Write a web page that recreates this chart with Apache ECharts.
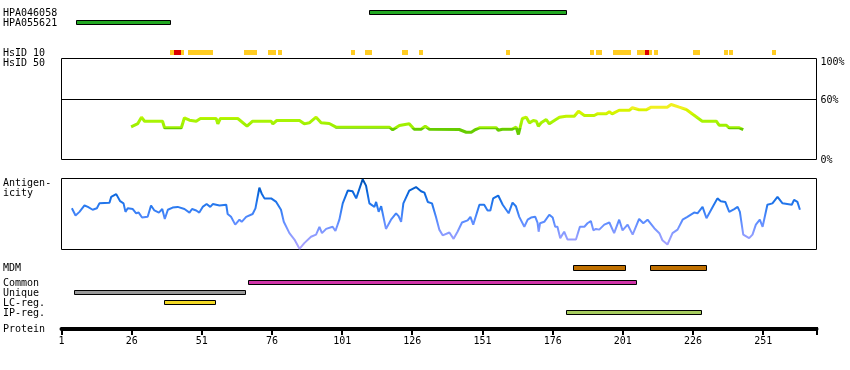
<!DOCTYPE html>
<html><head><meta charset="utf-8">
<script src="https://cdn.jsdelivr.net/npm/echarts@6/dist/echarts.min.js"></script>
<style>html,body{margin:0;padding:0;background:#fff}#c{width:850px;height:370px}</style>
</head><body><div id="c"></div>
<script>
// ---------------- data ----------------
const residueMin = 1;
const residueMax = 270;
const residueTickStep = 25;
const proteinTickMarks = [1, 26, 51, 76, 101, 126, 151, 176, 201, 226, 251, 270];
const identityTicks = [0, 60, 100];

const hpa046058Ranges = [[110.4, 180.7]];
const hpa055621Ranges = [[6.3, 39.8]];

// [start, end, level]  level 1 = yellow, 2 = red
const hsid10Segments = [
  [39.5,41.2,1],[41.2,43.7,2],[43.7,44.8,1],[46.2,54.8,1],[66.2,70.8,1],[74.4,77.6,1],[78.3,79.7,1],
  [104.3,105.7,1],[109.3,111.8,1],[122.4,124.6,1],[128.5,129.9,1],[159.5,160.9,1],
  [189.4,190.8,1],[191.5,193.7,1],[197.6,204.0,1],[205.9,208.8,1],[208.8,210.2,2],[210.2,211.3,1],[212.0,213.4,1],
  [225.9,228.4,1],[236.9,238.3,1],[239.0,240.1,1],[254.0,255.4,1]
];

// HsID 50 identity (%) along residues
const identityPoints = [
  [25.8,32.4],[28.2,35.6],[29.5,41.9],[30.6,37.9],[37.0,37.9],[37.7,31.4],[43.7,31.4],[44.8,41.3],[46.6,38.9],
  [49.0,37.9],[50.5,40.6],[56.1,40.6],[56.7,35.3],[57.6,40.6],[63.8,40.6],[67.1,33.0],[69.1,37.9],[75.7,37.9],
  [76.3,35.3],[77.7,38.6],[85.8,38.6],[87.5,35.3],[89.3,36.3],[91.7,41.9],[93.5,36.3],[96.4,35.6],[98.8,32.0],
  [117.8,32.0],[119.0,29.4],[121.4,33.7],[124.9,35.3],[126.7,30.0],[129.1,30.0],[130.6,33.0],[132.1,30.0],
  [142.7,29.7],[145.2,27.0],[147.0,27.0],[148.1,29.0],[149.9,31.4],[155.9,31.4],[156.6,29.0],[158.1,30.0],
  [161.6,30.0],[163.0,32.0],[163.8,24.8],[165.2,40.6],[166.6,41.9],[167.7,36.3],[169.1,38.6],[170.2,37.9],
  [170.9,33.0],[171.9,36.3],[173.7,39.6],[174.8,35.3],[176.6,38.6],[178.4,41.9],[180.8,42.9],[183.7,42.9],
  [185.2,47.8],[187.3,43.6],[190.8,43.6],[191.9,45.2],[195.1,45.2],[196.2,47.2],[197.2,45.2],[199.7,48.8],
  [203.3,48.8],[204.4,51.2],[206.8,49.2],[209.3,49.2],[211.1,51.8],[216.8,51.8],[218.2,54.5],[221.1,51.8],
  [223.6,49.5],[229.3,37.9],[234.3,37.9],[235.3,34.0],[237.8,34.0],[238.9,31.4],[242.5,31.4],[243.9,29.7]
];

// Antigenicity score (0-100 relative) along residues
const antigenicityPoints = [
  [4.7,58],[6.0,48],[7.4,53],[9.2,62],[10.4,60],[12.1,56],[13.6,58],[14.5,65],[18.1,66],[18.7,74],[20.5,78],
  [21.9,68],[23.1,65],[23.8,53],[24.6,58],[26.4,57],[27.6,51],[28.5,52],[29.7,45],[31.7,46],[32.9,62],[34.1,55],
  [35.7,52],[36.9,57],[37.8,43],[38.9,56],[40.6,59],[42.4,60],[44.8,57],[46.6,52],[47.5,57],[49.0,55],[50.1,52],
  [51.3,60],[52.7,64],[54.0,60],[54.9,64],[57.3,62],[59.7,63],[60.2,50],[61.4,46],[62.9,35],[64.4,42],[65.2,39],
  [66.8,46],[69.1,50],[70.1,58],[71.5,87],[72.3,79],[73.3,72],[75.7,72],[77.5,67],[79.2,56],[80.2,39],[82.2,23],
  [84.0,14],[85.8,1],[87.5,9],[89.9,18],[91.7,21],[92.9,32],[93.8,23],[95.3,29],[97.6,32],[98.6,26],[100.0,42],
  [101.2,65],[103.0,83],[104.7,82],[106.0,72],[108.3,99],[109.5,90],[110.7,65],[112.5,60],[113.1,67],[114.0,53],
  [114.9,61],[116.6,29],[118.4,42],[120.2,51],[121.1,47],[122.0,39],[122.8,65],[124.9,83],[127.3,88],[129.1,82],
  [130.3,80],[131.5,67],[133.0,65],[134.4,46],[135.6,28],[136.8,20],[139.2,24],[140.7,15],[142.1,25],[143.7,38],
  [145.7,41],[146.7,46],[147.7,35],[149.9,63],[151.6,63],[152.8,55],[153.8,55],[154.8,72],[156.6,76],[158.2,63],
  [160.3,51],[161.7,66],[162.9,61],[164.1,46],[165.9,32],[167.1,42],[168.3,45],[169.8,46],[170.6,38],[171.0,25],
  [171.5,37],[173.0,39],[174.8,49],[176.0,45],[176.9,32],[177.7,32],[178.7,16],[180.1,25],[181.3,14],[184.3,14],
  [185.7,32],[187.3,32],[188.4,37],[189.6,40],[190.5,27],[191.4,29],[192.6,28],[194.4,35],[196.2,38],[197.9,23],
  [199.7,42],[200.9,27],[202.7,35],[204.5,21],[206.8,43],[208.3,37],[209.8,42],[212.2,30],[214.0,23],[215.1,13],
  [216.9,7],[218.7,23],[220.5,28],[222.3,42],[224.0,46],[226.4,52],[227.6,51],[229.4,60],[230.8,44],[233.0,60],
  [234.7,72],[235.9,68],[237.5,67],[238.9,53],[240.7,57],[241.9,60],[242.7,53],[243.9,21],[246.0,16],[247.2,21],
  [248.4,35],[249.8,42],[250.8,32],[252.5,63],[254.3,65],[256.1,74],[257.9,65],[261.2,63],[262.0,70],[263.2,67],
  [264.1,56]
];

const mdmRanges = [[183.4, 201.7], [210.5, 230.6]];
const commonRanges = [[67.3, 205.7]];
const uniqueRanges = [[5.3, 66.4]];
const lcRegRanges = [[37.4, 55.7]];
const ipRegRanges = [[180.6, 228.8]];

const trackLabels = ['HPA046058','HPA055621','HsID 10','HsID 50','Antigen-','icity','MDM','Common','Unique','LC-reg.','IP-reg.','Protein'];

// ---------------- layout / style ----------------
const FONT = 'DejaVu Sans Mono';
const L = 61.5, W = 755;
const labelCenters = [13, 23.5, 53, 63, 183, 193.5, 268.5, 283, 293, 303, 313, 329.5];
const rows = {
  hpa046058: {top:10, h:5, color:'#22A822', stroke:true},
  hpa055621: {top:20, h:5, color:'#22A822', stroke:true},
  hsid10:    {top:50, h:5, colors:{1:'#FFCC22', 2:'#DD0000'}},
  mdm:       {top:265, h:6, color:'#C07000', stroke:true},
  common:    {top:280, h:5, color:'#D033A8', stroke:true},
  unique:    {top:290, h:5, color:'#999999', stroke:true},
  lc:        {top:300, h:5, color:'#F2D824', stroke:true},
  ip:        {top:310, h:5, color:'#A6CC5E', stroke:true}
};
const tickStyle = {top:327, h:8, w:2};

function trackSeries(name, data, row) {
  return {
    type:'custom', name, xAxisIndex:0, yAxisIndex:0, data, clip:false, silent:true, z:5,
    encode:{x:[0,1]},
    renderItem:function(params, api){
      const x0 = api.coord([api.value(0), 0])[0];
      const x1 = api.coord([api.value(1), 0])[0];
      const fill = row.colors ? row.colors[api.value(2)] : row.color;
      if (row.stroke) {
        const a = Math.round(x0) + 0.5, b = Math.round(x1) + 0.5;
        return {type:'rect', shape:{x:a, y:row.top + 0.5, width:b - a, height:row.h - 1},
                style:{fill, stroke:'#000', lineWidth:1}};
      }
      const a = Math.round(x0), b = Math.round(x1);
      return {type:'rect', shape:{x:a, y:row.top, width:Math.max(1, b - a), height:row.h}, style:{fill}};
    }
  };
}

const hiddenX = (g) => ({gridIndex:g, type:'value', min:residueMin, max:residueMax, show:false});

const labelPad = {100:8, 60:4, 0:1};

const option = {
  animation:false,
  backgroundColor:'#fff',
  grid:[
    {left:L, width:W, top:0, height:370, show:false},
    {left:L, width:W, top:58.5, height:101, show:true, borderColor:'#000', borderWidth:1, backgroundColor:'transparent'},
    {left:L, width:W, top:178.5, height:71, show:true, borderColor:'#000', borderWidth:1, backgroundColor:'transparent'},
    {left:L, width:W, top:300, height:29, show:false}
  ],
  xAxis:[
    hiddenX(0), hiddenX(1), hiddenX(2),
    {gridIndex:3, type:'value', min:residueMin, max:residueMax, interval:residueTickStep,
     axisLine:{show:true, onZero:false, lineStyle:{color:'#000', width:4}},
     axisTick:{show:false},
     axisLabel:{show:true, color:'#000', fontFamily:FONT, fontSize:10, margin:7, showMaxLabel:false, showMinLabel:true},
     splitLine:{show:false}}
  ],
  yAxis:[
    {gridIndex:0, type:'value', min:0, max:1, show:false},
    {gridIndex:1, type:'value', position:'right', min:identityTicks[0], max:identityTicks[2], interval:identityTicks[1],
     axisLine:{show:false}, axisTick:{show:false}, splitLine:{show:false},
     axisLabel:{show:true, margin:4, color:'#000', fontFamily:FONT, fontSize:10,
       formatter:(v)=> '{p' + v + '|' + v + '%}',
       rich:{p100:{padding:[labelPad[100],0,0,0]}, p60:{padding:[labelPad[60],0,0,0]}, p0:{padding:[labelPad[0],0,0,0]}}}},
    {gridIndex:2, type:'value', min:0, max:100, show:false},
    {gridIndex:3, type:'value', min:0, max:1, show:false}
  ],
  visualMap:[
    {type:'piecewise', show:false, seriesIndex:8, dimension:1,
     pieces:[{lt:31,color:'#66CC00'},{gte:31,lt:36,color:'#A0F000'},{gte:36,lt:41,color:'#A8F404'},
             {gte:41,lt:45,color:'#C0F400'},{gte:45,lt:50,color:'#D8F400'},{gte:50,color:'#F0F020'}]},
    {type:'continuous', show:false, seriesIndex:9, dimension:1, min:0, max:100,
     inRange:{color:['#B0A4FF','#8E9CFF','#5B8CFF','#2A7AF0','#0A66DD','#0050B0']}}
  ],
  series:[
    trackSeries('HPA046058', hpa046058Ranges, rows.hpa046058),
    trackSeries('HPA055621', hpa055621Ranges, rows.hpa055621),
    trackSeries('HsID 10', hsid10Segments, rows.hsid10),
    trackSeries('MDM', mdmRanges, rows.mdm),
    trackSeries('Common', commonRanges, rows.common),
    trackSeries('Unique', uniqueRanges, rows.unique),
    trackSeries('LC-reg.', lcRegRanges, rows.lc),
    trackSeries('IP-reg.', ipRegRanges, rows.ip),
    {type:'line', name:'HsID 50', xAxisIndex:1, yAxisIndex:1, data:identityPoints, showSymbol:false, symbol:'none',
     lineStyle:{width:3}, silent:true,
     markLine:{silent:true, symbol:'none', label:{show:false}, lineStyle:{color:'#000', width:1, type:'solid'},
               data:[{yAxis:identityTicks[1]}]}},
    {type:'line', name:'Antigenicity', xAxisIndex:2, yAxisIndex:2, data:antigenicityPoints, showSymbol:false, symbol:'none',
     lineStyle:{width:2}, silent:true}
  ]
};

const chart = echarts.init(document.getElementById('c'));
chart.setOption(option);

const textGraphics = trackLabels.map((t, i) => ({
  type:'text', x:3, y:labelCenters[i], silent:true, z:100,
  style:{text:t, fill:'#000', font:'10px "' + FONT + '"', verticalAlign:'middle', align:'left'}
}));
const tickGraphics = proteinTickMarks.map(v => {
  const px = Math.round(chart.convertToPixel({xAxisIndex:3}, v));
  return {type:'rect', silent:true, z:100,
          shape:{x:px - 1, y:tickStyle.top, width:tickStyle.w, height:tickStyle.h}, style:{fill:'#000'}};
});
chart.setOption({graphic:{elements: textGraphics.concat(tickGraphics)}});
</script>
</body></html>
